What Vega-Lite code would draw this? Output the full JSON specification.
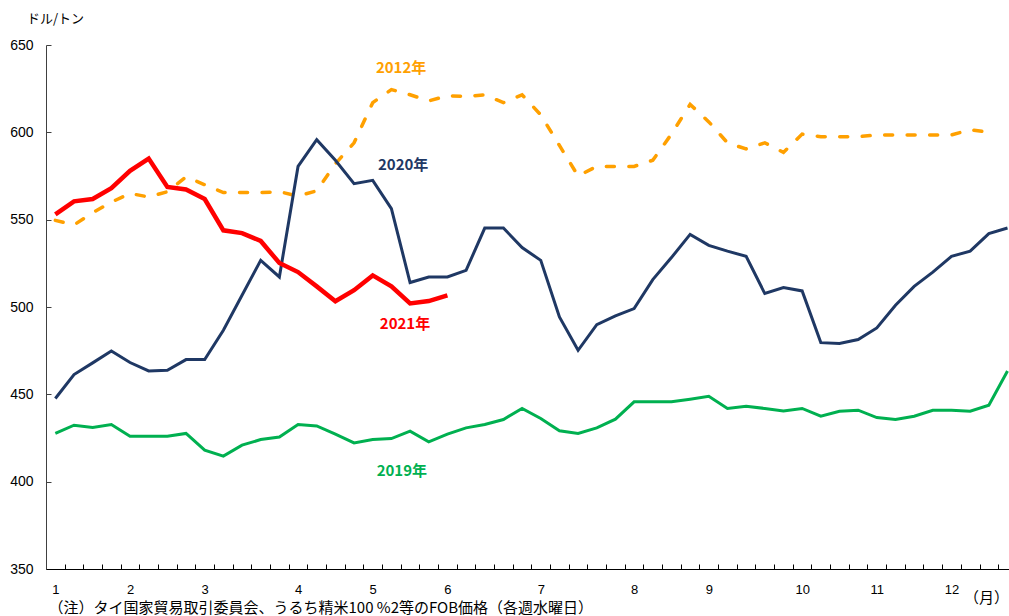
{
  "$schema": "https://vega.github.io/schema/vega-lite/v6.json",
  "width": 963,
  "height": 524,
  "autosize": "none",
  "padding": {"left": 46, "top": 45, "right": 0, "bottom": 47},
  "background": "white",
  "config": {
    "view": {"stroke": null}
  },
  "title": {
    "text": "（月）",
    "orient": "bottom",
    "anchor": "end",
    "frame": "group",
    "offset": -24,
    "dx": 0,
    "font": "Noto Sans CJK JP",
    "fontSize": 15,
    "fontWeight": "normal",
    "color": "black"
  },
  "datasets": {
    "s2012": [
      {"week":1,"price":549.6},{"week":2,"price":547},{"week":3,"price":554},{"week":4,"price":560},{"week":5,"price":565},
      {"week":6,"price":563},{"week":7,"price":566},{"week":8,"price":574.5},{"week":9,"price":570},{"week":10,"price":565.5},
      {"week":11,"price":565.5},{"week":12,"price":565.5},{"week":13,"price":566},{"week":14,"price":563.5},{"week":15,"price":566.5},
      {"week":16,"price":582},{"week":17,"price":594},{"week":18,"price":617},{"week":19,"price":624.5},{"week":20,"price":621.5},
      {"week":21,"price":618},{"week":22,"price":621},{"week":23,"price":620.5},{"week":24,"price":621.5},{"week":25,"price":617},
      {"week":26,"price":621.5},{"week":27,"price":610},{"week":28,"price":592.5},{"week":29,"price":575},{"week":30,"price":580.5},
      {"week":31,"price":580.5},{"week":32,"price":580.5},{"week":33,"price":584},{"week":34,"price":599},{"week":35,"price":616},
      {"week":36,"price":606},{"week":37,"price":594},{"week":38,"price":590.5},{"week":39,"price":594},{"week":40,"price":588.5},
      {"week":41,"price":599},{"week":42,"price":597.5},{"week":43,"price":597.5},{"week":44,"price":597.5},{"week":45,"price":598.5},
      {"week":46,"price":598.5},{"week":47,"price":598.5},{"week":48,"price":598.5},{"week":49,"price":598.5},{"week":50,"price":601.5},
      {"week":51,"price":600}
    ],
    "s2019": [
      {"week":1,"price":427.6},{"week":2,"price":432.3},{"week":3,"price":431},{"week":4,"price":432.7},{"week":5,"price":426},
      {"week":6,"price":426},{"week":7,"price":426},{"week":8,"price":427.6},{"week":9,"price":418},{"week":10,"price":414.6},
      {"week":11,"price":420.9},{"week":12,"price":424.1},{"week":13,"price":425.6},{"week":14,"price":432.7},{"week":15,"price":431.9},
      {"week":16,"price":427.2},{"week":17,"price":422.2},{"week":18,"price":424.1},{"week":19,"price":424.7},{"week":20,"price":428.9},
      {"week":21,"price":422.8},{"week":22,"price":427.2},{"week":23,"price":430.8},{"week":24,"price":432.7},{"week":25,"price":435.6},
      {"week":26,"price":441.9},{"week":27,"price":436.2},{"week":28,"price":429.1},{"week":29,"price":427.6},{"week":30,"price":430.8},
      {"week":31,"price":435.8},{"week":32,"price":445.7},{"week":33,"price":445.7},{"week":34,"price":445.7},{"week":35,"price":447.2},
      {"week":36,"price":448.9},{"week":37,"price":441.9},{"week":38,"price":443.2},{"week":39,"price":441.9},{"week":40,"price":440.5},
      {"week":41,"price":441.9},{"week":42,"price":437.5},{"week":43,"price":440.3},{"week":44,"price":440.9},{"week":45,"price":436.7},
      {"week":46,"price":435.6},{"week":47,"price":437.5},{"week":48,"price":440.9},{"week":49,"price":440.9},{"week":50,"price":440.3},
      {"week":51,"price":443.8},{"week":52,"price":463.4}
    ],
    "s2020": [
      {"week":1,"price":447.6},{"week":2,"price":461.3},{"week":3,"price":468},{"week":4,"price":474.8},{"week":5,"price":468.2},
      {"week":6,"price":463.4},{"week":7,"price":463.8},{"week":8,"price":469.9},{"week":9,"price":469.9},{"week":10,"price":486.7},
      {"week":11,"price":506.7},{"week":12,"price":526.7},{"week":13,"price":517.2},{"week":14,"price":580.5},{"week":15,"price":595.8},
      {"week":16,"price":584},{"week":17,"price":570.6},{"week":18,"price":572.5},{"week":19,"price":556.3},{"week":20,"price":514},
      {"week":21,"price":517.2},{"week":22,"price":517.2},{"week":23,"price":521},{"week":24,"price":545.2},{"week":25,"price":545.2},
      {"week":26,"price":534},{"week":27,"price":526.7},{"week":28,"price":494.3},{"week":29,"price":475.2},{"week":30,"price":489.9},
      {"week":31,"price":494.9},{"week":32,"price":499.1},{"week":33,"price":515.7},{"week":34,"price":528.3},{"week":35,"price":541.6},
      {"week":36,"price":535.3},{"week":37,"price":532},{"week":38,"price":529},{"week":39,"price":507.7},{"week":40,"price":511.1},
      {"week":41,"price":509.2},{"week":42,"price":479.6},{"week":43,"price":479.1},{"week":44,"price":481.4},{"week":45,"price":488},
      {"week":46,"price":501},{"week":47,"price":511.8},{"week":48,"price":520},{"week":49,"price":529},{"week":50,"price":532},
      {"week":51,"price":542},{"week":52,"price":545.2}
    ],
    "s2021": [
      {"week":1,"price":553},{"week":2,"price":560.5},{"week":3,"price":561.8},{"week":4,"price":568},{"week":5,"price":578},
      {"week":6,"price":585},{"week":7,"price":568.7},{"week":8,"price":567.3},{"week":9,"price":561.8},{"week":10,"price":543.9},
      {"week":11,"price":542.3},{"week":12,"price":537.8},{"week":13,"price":525.2},{"week":14,"price":520},{"week":15,"price":511.8},
      {"week":16,"price":503.3},{"week":17,"price":509.6},{"week":18,"price":518.1},{"week":19,"price":511.8},{"week":20,"price":502},
      {"week":21,"price":503.4},{"week":22,"price":506.7}
    ],
    "labels": [
      {"week":19.52,"price":636.8,"label":"2012年","series":"2012"},
      {"week":19.63,"price":581.4,"label":"2020年","series":"2020"},
      {"week":19.73,"price":490.1,"label":"2021年","series":"2021"},
      {"week":19.56,"price":406,"label":"2019年","series":"2019"}
    ]
  },
  "encoding": {
    "x": {
      "field": "week",
      "type": "quantitative",
      "scale": {"domain": [0.5, 52.08], "nice": false, "zero": false},
      "axis": {
        "values": [0.5,1.5,2.5,3.5,4.5,5.5,6.5,7.5,8.5,9.5,10.5,11.5,12.5,13.5,14.5,15.5,16.5,17.5,18.5,19.5,20.5,21.5,22.5,23.5,24.5,25.5,26.5,27.5,28.5,29.5,30.5,31.5,32.5,33.5,34.5,35.5,36.5,37.5,38.5,39.5,40.5,41.5,42.5,43.5,44.5,45.5,46.5,47.5,48.5,49.5,50.5,51.5,1,5,9,14,18,22,27,32,36,41,45,49],
        "labelExpr": "datum.value % 1 == 0 ? '' + (indexof([1,5,9,14,18,22,27,32,36,41,45,49], datum.value) + 1) : ''",
        "labelOverlap": false,
        "labelFlush": false,
        "labelBound": false,
        "labelFont": "Liberation Sans",
        "labelFontSize": 13,
        "labelColor": "black",
        "labelPadding": 14,
        "ticks": true,
        "tickSize": 0,
        "tickOpacity": 0,
        "grid": true,
        "gridColor": "black",
        "gridWidth": 1,
        "gridDash": [5, 1000],
        "gridDashOffset": 486,
        "gridOpacity": {"condition": {"test": "datum.value % 1 != 0", "value": 1}, "value": 0},
        "domainColor": "black",
        "title": "（注）タイ国家貿易取引委員会、うるち精米100 %2等のFOB価格（各週水曜日）",
        "titleX": 2,
        "titleY": 38,
        "titleAlign": "left",
        "titleBaseline": "middle",
        "titleFont": "Noto Sans CJK JP",
        "titleFontSize": 15,
        "titleFontWeight": "normal",
        "titleColor": "black"
      }
    },
    "y": {
      "field": "price",
      "type": "quantitative",
      "scale": {"domain": [350, 650], "nice": false, "zero": false},
      "axis": {
        "values": [350, 400, 450, 500, 550, 600, 650],
        "labelFont": "Liberation Sans",
        "labelFontSize": 14,
        "labelColor": "black",
        "labelPadding": 13,
        "ticks": true,
        "tickSize": 0,
        "tickOpacity": 0,
        "grid": true,
        "gridColor": "#404040",
        "gridWidth": 1,
        "gridDash": [5, 2000],
        "domainColor": "#404040",
        "title": "ドル/トン",
        "titleAngle": 0,
        "titleX": 9,
        "titleY": -27,
        "titleAlign": "center",
        "titleBaseline": "middle",
        "titleFont": "Noto Sans CJK JP",
        "titleFontSize": 13,
        "titleFontWeight": "normal",
        "titleColor": "black"
      }
    }
  },
  "layer": [
    {
      "data": {"name": "s2012"},
      "mark": {"type": "line", "color": "#FFA000", "strokeWidth": 3.5, "strokeDash": [8, 14.5], "strokeCap": "round"}
    },
    {
      "data": {"name": "s2019"},
      "mark": {"type": "line", "color": "#00B050", "strokeWidth": 3}
    },
    {
      "data": {"name": "s2020"},
      "mark": {"type": "line", "color": "#1F3864", "strokeWidth": 3}
    },
    {
      "data": {"name": "s2021"},
      "mark": {"type": "line", "color": "#FF0000", "strokeWidth": 4.5}
    },
    {
      "data": {"name": "labels"},
      "mark": {"type": "text", "font": "Noto Sans CJK JP", "fontSize": 15, "fontWeight": "bold", "align": "center", "baseline": "middle"},
      "encoding": {
        "text": {"field": "label"},
        "color": {
          "field": "series",
          "type": "nominal",
          "scale": {"domain": ["2012", "2019", "2020", "2021"], "range": ["#FFA000", "#00B050", "#1F3864", "#FF0000"]},
          "legend": null
        }
      }
    }
  ]
}
